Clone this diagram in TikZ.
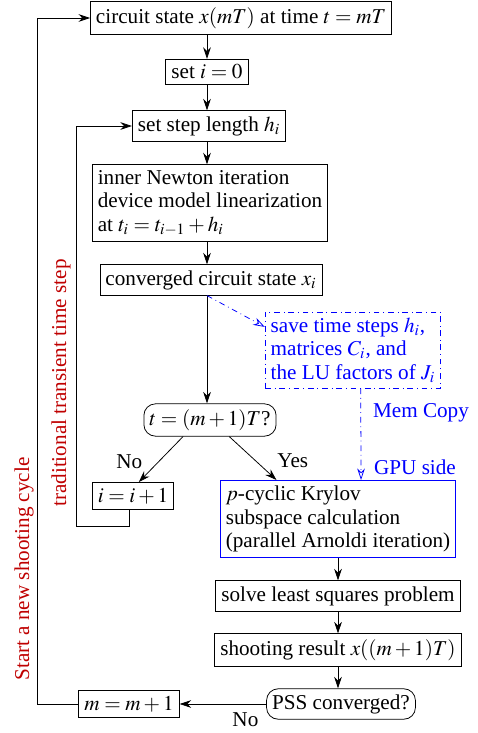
\documentclass[tikz,border=0pt]{standalone}
\usepackage{mathptmx}
\usepackage{fontspec}
\setmainfont{Liberation Serif}
\usetikzlibrary{arrows.meta}
\definecolor{darkred}{rgb}{0.75,0,0}

\begin{document}
\begin{tikzpicture}[x=0.52pt, y=-0.52pt,
	>={Stealth[length=6pt,width=4pt]},
	every node/.style={font=\fontsize{11}{12.2}\selectfont},
	box/.style={draw=black, rectangle, inner sep=2.9pt},
	ask/.style={draw=black, rectangle, rounded corners=6pt, inner sep=2.9pt},
	gpu/.style={draw=blue, rectangle, inner sep=2.9pt},
	save/.style={draw=blue, dash dot, rectangle, text=blue, inner sep=2.9pt},
	memcopy/.style={draw=blue, dash dot, -{Stealth[open,length=6pt,width=4pt]}}]

	\useasboundingbox (0,0) rectangle (477,733);

	\node[box] (circ) at (241, 18)     {circuit state $x(mT)$ at time $t=mT$};
	\node[box] (init) at (207, 72)     {set $i=0$};
	\node[box] (step) at (209, 126)    {set step length $h_i$};
	\node[box, align=left] (newton) at (210, 203)
		{inner Newton iteration\\device model linearization\\at $t_i=t_{i-1}+h_i$};
	\node[box] (conv) at (211, 280)    {converged circuit state $x_i$};
	\node[save, align=left] (keep) at (353, 350)
		{save time steps $h_i$,\\matrices $C_i$, and\\the LU factors of $J_i$};
	\node[ask] (tend) at (210, 420)    {$t=(m+1)T$?};
	\node[box] (iinc) at (133, 496)    {$i=i+1$};
	\node[gpu, align=left] (kry) at (338, 519)
		{$p$-cyclic Krylov\\subspace calculation\\(parallel Arnoldi iteration)};
	\node[box] (lsq) at (338, 596)     {solve least squares problem};
	\node[box] (shoot) at (338, 650)   {shooting result $x((m+1)T)$};
	\node[ask] (pss) at (341, 704)     {PSS converged?};
	\node[box] (minc) at (129, 704)    {$m=m+1$};

	\coordinate (axis) at (207, 0);
	\coordinate (inner) at (76, 526);
	\coordinate (outer) at (37, 704);

	\path[->] (circ.south -| axis) edge (init.north -| axis);
	\path[->] (init.south -| axis) edge (step.north -| axis);
	\path[->] (step.south -| axis) edge (newton.north -| axis);
	\path[->] (newton.south -| axis) edge (conv.north -| axis);
	\path[->] (conv.south -| axis) edge (tend.north -| axis);

	\path[->] ([xshift=-14pt]tend.south) edge node[pos=0.55, left=5pt]{No} ([xshift=3pt]iinc.north);
	\path[->] ([xshift=10pt]tend.south) edge node[pos=0.55, right=8pt]{Yes} ([xshift=-32pt]kry.north);

	\path[->] (kry) edge (lsq);
	\path[->] (lsq) edge (shoot);
	\path[->] (shoot.south) edge (shoot.south |- pss.north);
	\path[->] (pss) edge node[pos=0.24, below=1pt]{No} (minc);

	% memory transfer to the GPU
	\draw[memcopy] (conv.south -| axis) -- ([yshift=12pt]keep.west);
	\draw[memcopy] ([xshift=4pt]keep.south) -- ([xshift=12pt]kry.north);
	\node[text=blue] (mem) at (421, 413) {Mem Copy};
	\node[text=blue] (side) at (415, 467) {GPU side};

	% loops
	\draw[->] ([xshift=-2pt]iinc.south) |- (inner) |- (step.west);
	\draw[->] (minc.west) -- (outer) |- (circ.west);

	\node[text=darkred, rotate=90] (trans) at (61, 383) {traditional transient time step};
	\node[text=darkred, rotate=90] (cycle) at (24, 569) {Start a new shooting cycle};

\end{tikzpicture}
\end{document}
